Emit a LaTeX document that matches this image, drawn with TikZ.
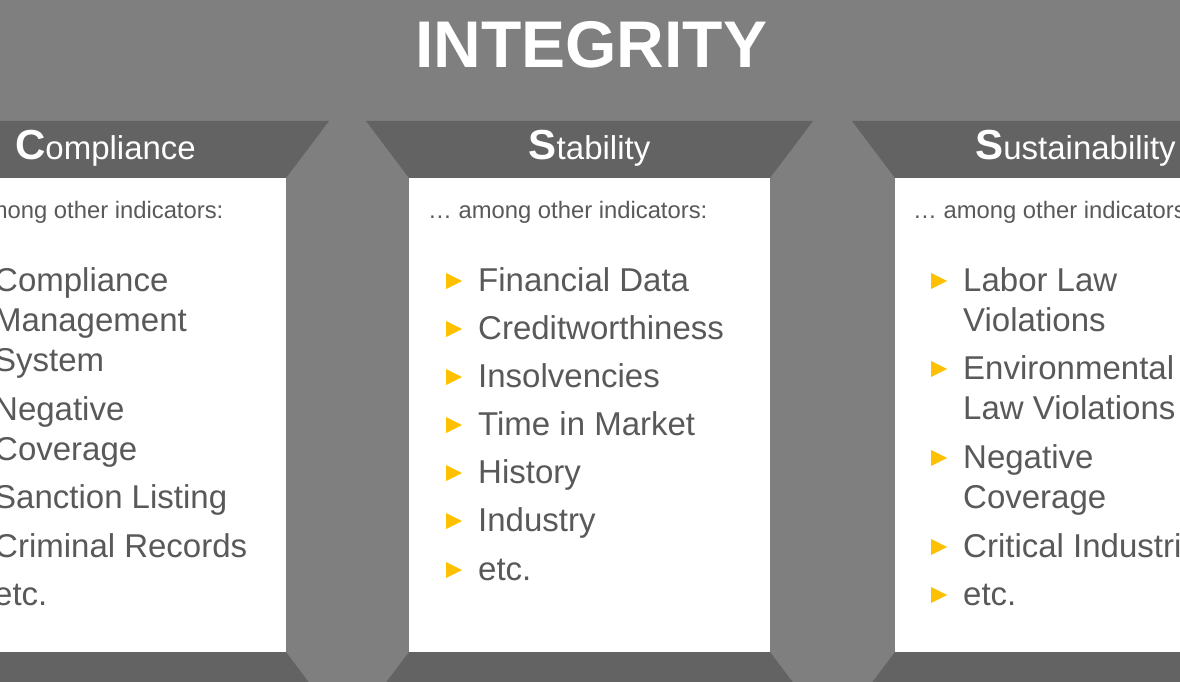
\documentclass[tikz,border=0pt]{standalone}
\usepackage{fontspec}
\setmainfont{Liberation Sans}
\usetikzlibrary{calc}
\definecolor{bg}{HTML}{7F7F7F}
\definecolor{hdr}{HTML}{636363}
\definecolor{txt}{HTML}{595959}
\definecolor{bul}{HTML}{FFC000}
\tikzset{
  hdrband/.style={fill=hdr},
  panel/.style={fill=white},
  itemtext/.style={anchor=base west, text=txt, font=\fontsize{33}{40}\selectfont, inner sep=0pt},
  subtext/.style={anchor=base west, text=txt, font=\fontsize{23.8}{28}\selectfont, inner sep=0pt},
  headtext/.style={anchor=base, text=white, font=\fontsize{33}{40}\selectfont, inner sep=0pt},
  titletext/.style={anchor=base, text=white, font=\fontsize{66}{70}\selectfont\bfseries, inner sep=0pt},
  bulletmark/.style={fill=bul},
}
\newcommand\bigini[1]{{\fontsize{42}{48}\selectfont\bfseries #1}}
\begin{document}
\begin{tikzpicture}[x=1pt,y=-1pt]
\useasboundingbox (0,0) rectangle (1180,682);
\clip (0,0) rectangle (1180,682);
\fill[bg] (0,0) rectangle (1180,682);
% columns: header trapezoid, white panel, footer trapezoid
\foreach \L/\R in {-75/286, 409/770, 895/1256} {
  \fill[hdrband] (\L-43,121) -- (\R+43,121) -- (\R,178) -- (\L,178) -- cycle;
  \fill[panel] (\L,178) rectangle (\R,652);
  \fill[hdrband] (\L,652) -- (\R,652) -- (\R+43,709) -- (\L-43,709) -- cycle;
}
% title
\node[titletext] (title) at (591,68) {INTEGRITY};
% column headers
\node[headtext] (hc) at (105.5,160) {\bigini{C}ompliance};
\node[headtext] (hs) at (589.5,160) {\bigini{S}tability};
\node[headtext] (hu) at (1075.5,160) {\bigini{S}ustainability};
% sub-headings
\node[subtext] (sc) at (-56,218) {… among other indicators:};
\node[subtext] (ss) at (428,218) {… among other indicators:};
\node[subtext] (su) at (913,218) {… among other indicators:};
% Compliance items
\foreach \t/\y/\b [count=\i] in {Compliance/279/1, Management/319/0, System/359/0, Negative/408/1, Coverage/448/0, Sanction Listing/496/1, Criminal Records/545/1, etc./593/1} {
  \node[itemtext] (c\i) at (-6,\y+12) {\t};
  \ifnum\b=1 \fill[bulletmark] ($(c\i.base west)+(-32,-18)$) -- ++(0,16) -- ++(16,-8) -- cycle; \fi
}
% Stability items
\foreach \t/\y/\b [count=\i] in {Financial Data/279/1, Creditworthiness/327/1, Insolvencies/375/1, Time in Market/423/1, History/471/1, Industry/519/1, etc./568/1} {
  \node[itemtext] (s\i) at (478,\y+12) {\t};
  \ifnum\b=1 \fill[bulletmark] ($(s\i.base west)+(-32,-18)$) -- ++(0,16) -- ++(16,-8) -- cycle; \fi
}
% Sustainability items
\foreach \t/\y/\b [count=\i] in {Labor Law/279/1, Violations/319/0, Environmental/367/1, Law Violations/407/0, Negative/456/1, Coverage/496/0, Critical Industries/545/1, etc./593/1} {
  \node[itemtext] (u\i) at (963,\y+12) {\t};
  \ifnum\b=1 \fill[bulletmark] ($(u\i.base west)+(-32,-18)$) -- ++(0,16) -- ++(16,-8) -- cycle; \fi
}
\end{tikzpicture}
\end{document}
